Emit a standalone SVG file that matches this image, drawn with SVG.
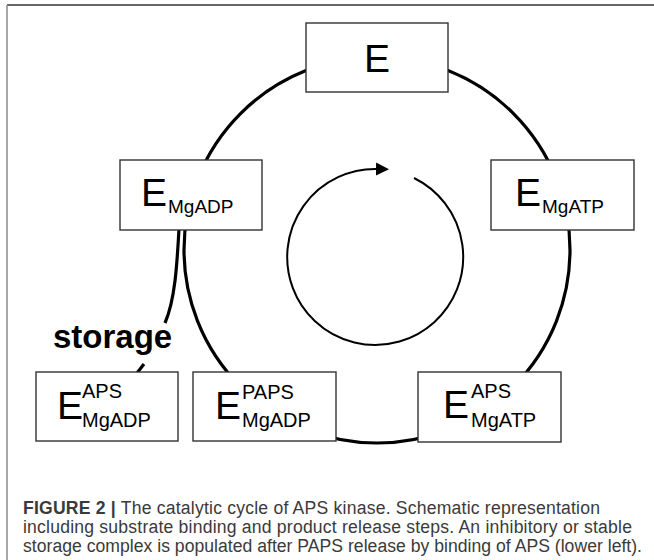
<svg xmlns="http://www.w3.org/2000/svg" width="654" height="560" viewBox="0 0 654 560">
  <style>
    .box { fill: #ffffff; stroke: #333333; stroke-width: 1.4; }
    .big { font-family: "Liberation Sans", Arial, sans-serif; font-size: 39px; fill: #000; }
    .sub { font-family: "Liberation Sans", Arial, sans-serif; font-size: 19px; fill: #000; }
    .sub2 { font-family: "Liberation Sans", Arial, sans-serif; font-size: 20px; fill: #000; }
    .cycle { fill: none; stroke: #000; stroke-width: 3.2; }
    .inner { fill: none; stroke: #000; stroke-width: 2; }
    .caption { font-family: "Liberation Sans", Arial, sans-serif; font-size: 17.6px; fill: #3a3a3a; }
    .frame { stroke-width: 1.5; fill: none; }
  </style>
  <defs>
    <marker id="arrow" markerUnits="userSpaceOnUse" markerWidth="14" markerHeight="14" refX="1" refY="6.5" orient="auto">
      <path d="M0,0 L13,6.5 L0,13 z" fill="#000"/>
    </marker>
  </defs>

  <!-- panel frame -->
  <line class="frame" x1="7" y1="5" x2="654" y2="5" stroke="#333333"/>
  <line class="frame" x1="7" y1="5" x2="7" y2="560" stroke="#8a8a8a"/>

  <!-- connectors: outer cycle, storage branch, inner rotation arrow -->
  <g id="connectors">
    <circle class="cycle" cx="377" cy="250" r="193"/>
    <path class="cycle" d="M179,229 C177,265 175,300 165,323"/>
    <path class="cycle" d="M144,364 L137,373"/>
    <path class="inner" d="M414,178 A88,88 0 1 1 377,169" marker-end="url(#arrow)"/>
  </g>

  <g id="node-E">
    <rect class="box" x="306" y="23" width="142" height="69"/>
    <text class="big" x="377" y="72" text-anchor="middle" font-size="40">E</text>
  </g>

  <g id="node-E-MgADP">
    <rect class="box" x="120" y="160" width="142" height="70"/>
    <text class="big" x="141" y="206">E</text>
    <text class="sub" x="168" y="213">MgADP</text>
  </g>

  <g id="node-E-MgATP">
    <rect class="box" x="491" y="160" width="143" height="70"/>
    <text class="big" x="515" y="206">E</text>
    <text class="sub" x="542" y="213">MgATP</text>
  </g>

  <g id="node-E-APS-MgADP">
    <rect class="box" x="36" y="372" width="142" height="69"/>
    <text class="big" x="57" y="419">E</text>
    <text class="sub2" x="82" y="398">APS</text>
    <text class="sub2" x="82" y="427">MgADP</text>
  </g>

  <g id="node-E-PAPS-MgADP">
    <rect class="box" x="193" y="372" width="143" height="69"/>
    <text class="big" x="215" y="419">E</text>
    <text class="sub2" x="242" y="399">PAPS</text>
    <text class="sub2" x="242" y="427">MgADP</text>
  </g>

  <g id="node-E-APS-MgATP">
    <rect class="box" x="418" y="372" width="143" height="70"/>
    <text class="big" x="443" y="418">E</text>
    <text class="sub2" x="471" y="398">APS</text>
    <text class="sub2" x="471" y="427">MgATP</text>
  </g>

  <text x="53" y="348" font-family="Liberation Sans, Arial, sans-serif" font-size="33" font-weight="bold" fill="#000">storage</text>

  <!-- caption -->
  <text class="caption" x="23" y="514" textLength="577" lengthAdjust="spacing"><tspan font-weight="bold">FIGURE 2 |</tspan> The catalytic cycle of APS kinase. Schematic representation</text>
  <text class="caption" x="23" y="533" textLength="609" lengthAdjust="spacing">including substrate binding and product release steps. An inhibitory or stable</text>
  <text class="caption" x="23" y="552" textLength="619" lengthAdjust="spacing">storage complex is populated after PAPS release by binding of APS (lower left).</text>
</svg>
